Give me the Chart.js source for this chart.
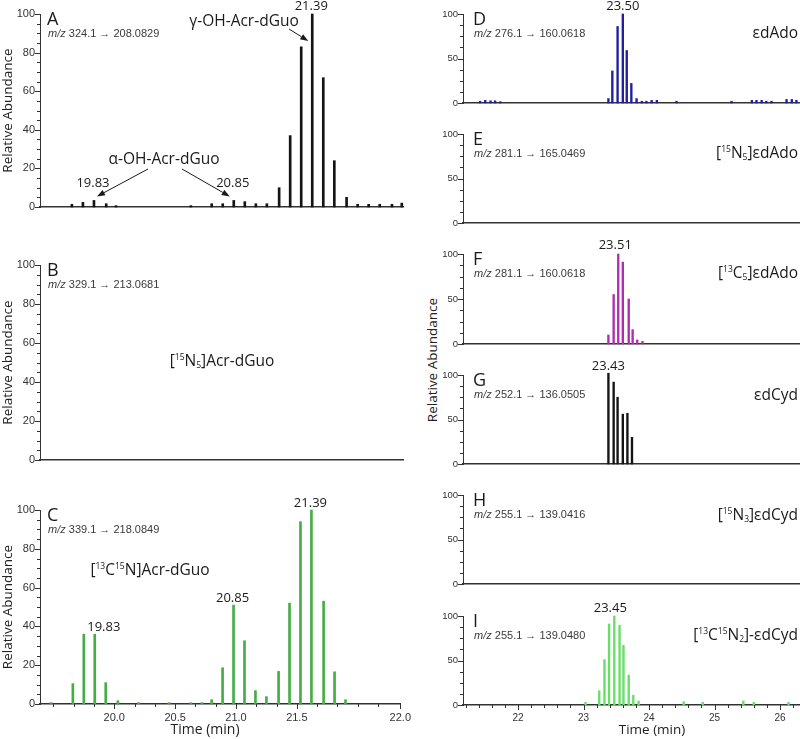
<!DOCTYPE html>
<html>
<head>
<meta charset="utf-8">
<title>Acr-dGuo and etheno adduct chromatograms</title>
<script src="https://cdn.jsdelivr.net/npm/chart.js@4.4.1/dist/chart.umd.min.js"></script>
<style>
  body { margin: 0; background: #fff; }
  #page { position: relative; width: 800px; height: 739px; overflow: hidden; font-family: "Open Sans", sans-serif; }
  #page canvas { position: absolute; }
  #rightTitle { position: absolute; left: 432px; top: 360px; transform: translate(-50%, -50%) rotate(-90deg);
                white-space: nowrap; font-size: 13.5px; color: #222; }
</style>
</head>
<body>
<div id="page"><div id="rightTitle">Relative Abundance</div></div>
<script>
// DATA (time in min, abundance in %)
// A - m/z 324.1 -> 208.0829
const timeA = [19.65, 19.74, 19.83, 19.93, 20.01, 20.62, 20.79, 20.88, 20.97, 21.06, 21.15, 21.24,
               21.34, 21.43, 21.52, 21.61, 21.70, 21.79, 21.89, 21.98, 22.07, 22.16, 22.26, 22.34];
const abundA = [1.4, 2.4, 3.4, 1.7, 0.7, 0.7, 1.7, 1.7, 3.4, 2.8, 1.7, 1.7,
                10, 37, 83, 100, 67, 24, 5, 1.4, 1.4, 1.4, 1.4, 2];
// B - m/z 329.1 -> 213.0681 (nothing detected)
const timeB = [];
const abundB = [];
// C - m/z 339.1 -> 218.0849
const timeC = [19.48, 19.66, 19.75, 19.84, 19.93, 20.03, 20.20, 20.45, 20.63, 20.72, 20.80, 20.89,
               20.98, 21.07, 21.16, 21.25, 21.35, 21.44, 21.53, 21.62, 21.72, 21.81, 21.90];
const abundC = [0.7, 10.5, 36, 36, 11, 1.7, 0.7, 0.7, 0.7, 0.7, 2.2, 18.7,
                51, 32.6, 6.9, 3.8, 16.8, 52, 94, 100, 53, 16.6, 2.2];
// D - m/z 276.1 -> 160.0618
const timeD = [21.42, 21.50, 21.58, 21.65, 21.73, 23.38, 23.44, 23.52, 23.60, 23.66, 23.73, 23.81, 23.89,
               23.96, 24.04, 24.12, 24.42, 25.26, 25.57, 25.64, 25.72, 25.79, 25.87, 26.10, 26.18, 26.25];
const abundD = [2, 3, 2.5, 2.5, 1.5, 5, 36, 86, 100, 59, 22, 5, 2,
                2, 3, 3, 2, 2, 3, 3, 3, 2, 2, 4, 4, 3];
// E - m/z 281.1 -> 165.0469 (nothing detected)
const timeE = [];
const abundE = [];
// F - m/z 281.1 -> 160.0618
const timeF = [23.38, 23.46, 23.53, 23.60, 23.69, 23.75, 23.82, 23.90];
const abundF = [10, 55, 100, 91, 50, 16, 4.5, 3];
// G - m/z 252.1 -> 136.0505
const timeG = [23.38, 23.46, 23.52, 23.60, 23.67, 23.74];
const abundG = [102, 92, 75, 56, 57, 30];
// H - m/z 255.1 -> 139.0416 (nothing detected)
const timeH = [];
const abundH = [];
// I - m/z 255.1 -> 139.0480
const timeI = [23.03, 23.24, 23.32, 23.39, 23.47, 23.55, 23.61, 23.69, 23.76, 23.84, 24.53, 24.82, 25.44, 25.60, 26.13];
const abundI = [3, 16, 51, 91, 100, 89.5, 67, 33.6, 11, 4.5, 3.7, 3, 4.5, 3, 3];

// tick labels
const tickValuesLeft = [20, 20.5, 21, 21.5, 22.35];
const tickLabelsLeft = ["20.0", "20.5", "21.0", "21.5", "22.0"];
const tickValuesRight = [22, 23, 24, 25, 26];
const tickLabelsRight = ["22", "23", "24", "25", "26"];

// COLUMN LAYOUT
const LEFT = { name: "left", left: 0, width: 418, axisW: 40, padRight: 15, xMin: 19.39, xMax: 22.35, yStep: 20, yMinor: 5,
               xMinorStart: 19.5, xMinor: 0.5 / 3, yFont: 11, xFont: 11, titleFont: 14, barW: 2,
               letterX: 47, titleX: 205, tickValues: tickValuesLeft, tickLabels: tickLabelsLeft, yTitle: true };
const RIGHT = { name: "right", left: 420, width: 380, axisW: 43, padRight: 0, xMin: 21.16, xMax: 26.305, yStep: 50, yMinor: 12.5,
                xMinorStart: 21.2, xMinor: 0.2, yFont: 9.5, xFont: 10, titleFont: 13.5, barW: 1.7,
                letterX: 473, titleX: 652, tickValues: tickValuesRight, tickLabels: tickLabelsRight, yTitle: false };

const panels = [
  { col: LEFT, top: 14, bottom: 207, letter: "A", mz: "324.1 \u2192 208.0829", times: timeA, values: abundA, color: "#141414",
    names: [{ text: "\u03b3-OH-Acr-dGuo", x: 244, y: 22, align: "center" },
            { text: "\u03b1-OH-Acr-dGuo", x: 164, y: 160, align: "center" }],
    peaks: [{ i: 15, text: "21.39", dx: -1, dy: -8 }, { i: 2, text: "19.83", dx: -1, dy: -17 }, { i: 8, text: "20.85", dx: -1, dy: -17 }],
    arrows: [{ from: [289, 29], i: 15, dx: -4, dy: 27 }, { from: [148, 169], i: 2, dx: 3, dy: -4 }, { from: [182, 169], i: 8, dx: -4, dy: -4 }] },
  { col: LEFT, top: 265, bottom: 460, letter: "B", mz: "329.1 \u2192 213.0681", times: timeB, values: abundB, color: "#141414",
    names: [{ text: "[^15N_5]Acr-dGuo", x: 222, y: 362, align: "center" }] },
  { col: LEFT, top: 510, bottom: 704, letter: "C", mz: "339.1 \u2192 218.0849", times: timeC, values: abundC, color: "#45ad45",
    names: [{ text: "[^13C^15N]Acr-dGuo", x: 150, y: 571, align: "center" }],
    peaks: [{ i: 3, text: "19.83", dx: 9, dy: -7 }, { i: 12, text: "20.85", dx: -1, dy: -7 }, { i: 19, text: "21.39", dx: -1, dy: -7 }],
    axisTitle: true },
  { col: RIGHT, top: 14, bottom: 103, letter: "D", mz: "276.1 \u2192 160.0618", times: timeD, values: abundD, color: "#1f1fa0",
    names: [{ text: "\u03b5dAdo", x: 798, y: 34, align: "right" }],
    peaks: [{ i: 8, text: "23.50", dx: 0, dy: -8 }] },
  { col: RIGHT, top: 134, bottom: 223, letter: "E", mz: "281.1 \u2192 165.0469", times: timeE, values: abundE, color: "#1f1fa0",
    names: [{ text: "[^15N_5]\u03b5dAdo", x: 798, y: 154, align: "right" }] },
  { col: RIGHT, top: 254, bottom: 344, letter: "F", mz: "281.1 \u2192 160.0618", times: timeF, values: abundF, color: "#b02db0",
    names: [{ text: "[^13C_5]\u03b5dAdo", x: 798, y: 274, align: "right" }],
    peaks: [{ i: 2, text: "23.51", dx: -3, dy: -9 }] },
  { col: RIGHT, top: 375, bottom: 464, letter: "G", mz: "252.1 \u2192 136.0505", times: timeG, values: abundG, color: "#141414",
    names: [{ text: "\u03b5dCyd", x: 798, y: 396, align: "right" }],
    peaks: [{ i: 0, text: "23.43", dx: 0, dy: -7 }] },
  { col: RIGHT, top: 495, bottom: 584, letter: "H", mz: "255.1 \u2192 139.0416", times: timeH, values: abundH, color: "#141414",
    names: [{ text: "[^15N_3]\u03b5dCyd", x: 798, y: 516, align: "right" }] },
  { col: RIGHT, top: 616, bottom: 705, letter: "I", mz: "255.1 \u2192 139.0480", times: timeI, values: abundI, color: "#66df66",
    names: [{ text: "[^13C^15N_2]-\u03b5dCyd", x: 798, y: 636, align: "right" }],
    peaks: [{ i: 4, text: "23.45", dx: -4, dy: -8 }],
    axisTitle: true }
];

// text with ^sup and _sub digits
function drawRich(ctx, str, x, y, size, align) {
  const parts = [];
  const re = /([\^_])(\d+)|([^\^_]+)/g;
  let m;
  while ((m = re.exec(str))) {
    if (m[3]) parts.push({ t: m[3], k: "" });
    else parts.push({ t: m[2], k: m[1] });
  }
  const small = size * 0.55;
  let w = 0;
  parts.forEach(q => {
    ctx.font = (q.k ? small : size) + 'px "Open Sans"';
    q.w = ctx.measureText(q.t).width;
    w += q.w;
  });
  let cx = align === "right" ? x - w : align === "center" ? x - w / 2 : x;
  ctx.textAlign = "left";
  parts.forEach(q => {
    ctx.font = (q.k ? small : size) + 'px "Open Sans"';
    const dy = q.k === "^" ? -size * 0.3 : q.k === "_" ? size * 0.25 : 0;
    ctx.fillText(q.t, cx, y + dy);
    cx += q.w;
  });
}

// small outside tick marks, major and minor
function tickMarksFor(p) {
  const col = p.col;
  return {
    id: "tickMarks",
    afterDraw(chart) {
      const ctx = chart.ctx;
      const ys = chart.scales.y, xs = chart.scales.x;
      const area = chart.chartArea;
      ctx.save();
      ctx.strokeStyle = "#333";
      ctx.lineWidth = 1;
      for (let v = 0; v <= 100.001; v += col.yMinor) {
        const major = Math.abs(v / col.yStep - Math.round(v / col.yStep)) < 1e-6;
        const py = Math.round(ys.getPixelForValue(v)) + 0.5;
        ctx.beginPath();
        ctx.moveTo(area.left - (major ? 5 : 3), py);
        ctx.lineTo(area.left, py);
        ctx.stroke();
      }
      if (p.axisTitle) {
        const majors = col.tickValues;
        majors.forEach(v => {
          const px = Math.round(xs.getPixelForValue(v)) + 0.5;
          ctx.beginPath(); ctx.moveTo(px, area.bottom); ctx.lineTo(px, area.bottom + 5); ctx.stroke();
        });
        for (let v = col.xMinorStart; v <= col.xMax; v += col.xMinor) {
          if (majors.some(mv => Math.abs(mv - v) < 0.04)) continue;
          const px = Math.round(xs.getPixelForValue(v)) + 0.5;
          ctx.beginPath(); ctx.moveTo(px, area.bottom); ctx.lineTo(px, area.bottom + 3); ctx.stroke();
        }
      }
      ctx.restore();
    }
  };
}

// panel letter, transition, compound names, peak labels, arrows, time title
function panelTextFor(p) {
  const col = p.col;
  return {
    id: "panelText",
    afterDatasetsDraw(chart) {
      const ctx = chart.ctx;
      const xs = chart.scales.x, ys = chart.scales.y;
      const offX = col.left, offY = p.top - 14;
      ctx.save();
      ctx.translate(-offX, -offY);
      ctx.fillStyle = "#1a1a1a";
      ctx.textBaseline = "middle";
      ctx.textAlign = "left";
      ctx.font = '18px "Open Sans"';
      ctx.fillText(p.letter, col.letterX, p.top + 5.5);
      ctx.fillStyle = "#3a3a3a";
      ctx.font = 'italic 11px "Liberation Sans", Arial';
      ctx.fillText("m/z", col.letterX + 1, p.top + 20);
      const mw = ctx.measureText("m/z ").width;
      ctx.font = '11px "Liberation Sans", Arial';
      ctx.fillText(p.mz, col.letterX + 1 + mw, p.top + 20);
      ctx.fillStyle = "#1a1a1a";
      (p.names || []).forEach(n => drawRich(ctx, n.text, n.x, n.y, 15.5, n.align));
      ctx.font = '13px "Open Sans"';
      ctx.textAlign = "center";
      (p.peaks || []).forEach(pk => {
        const bx = xs.getPixelForValue(p.times[pk.i]) + offX;
        const by = ys.getPixelForValue(p.values[pk.i]) + offY;
        ctx.fillText(pk.text, bx + pk.dx, by + pk.dy);
      });
      ctx.strokeStyle = "#1a1a1a";
      ctx.lineWidth = 1;
      (p.arrows || []).forEach(a => {
        const tx = xs.getPixelForValue(p.times[a.i]) + offX + a.dx;
        const ty = ys.getPixelForValue(p.values[a.i]) + offY + a.dy;
        const ang = Math.atan2(ty - a.from[1], tx - a.from[0]);
        const hl = 8, hw = 3;
        const bx = tx - hl * Math.cos(ang), by = ty - hl * Math.sin(ang);
        ctx.beginPath(); ctx.moveTo(a.from[0], a.from[1]); ctx.lineTo(bx, by); ctx.stroke();
        ctx.beginPath();
        ctx.moveTo(tx, ty);
        ctx.lineTo(bx + hw * Math.sin(ang), by - hw * Math.cos(ang));
        ctx.lineTo(bx - hw * Math.sin(ang), by + hw * Math.cos(ang));
        ctx.closePath();
        ctx.fill();
      });
      if (p.axisTitle) {
        ctx.fillStyle = "#222";
        ctx.font = col.titleFont + 'px "Open Sans"';
        ctx.textAlign = "center";
        ctx.fillText("Time (min)", col.titleX, 730);
      }
      ctx.restore();
    }
  };
}

const page = document.getElementById("page");

function makeChart(p) {
  const col = p.col;
  const cTop = p.top - 14;
  const xH = p.axisTitle ? 739 - p.bottom : 14;
  const canvas = document.createElement("canvas");
  canvas.width = col.width;
  canvas.height = p.bottom - cTop + xH;
  canvas.style.left = col.left + "px";
  canvas.style.top = cTop + "px";
  page.appendChild(canvas);

  new Chart(canvas, {
    type: "bar",
    data: {
      datasets: [{
        data: p.times.map((t, i) => ({ x: t, y: p.values[i] })),
        backgroundColor: p.color,
        barThickness: col.barW,
        clip: false
      }]
    },
    options: {
      responsive: false,
      animation: false,
      devicePixelRatio: 1,
      layout: { padding: { top: 14, right: col.padRight, left: 0, bottom: 0 } },
      plugins: { legend: { display: false }, tooltip: { enabled: false } },
      scales: {
        x: {
          type: "linear",
          min: col.xMin,
          max: col.xMax,
          offset: false,
          grid: { display: false, drawTicks: false },
          border: { display: true, color: "#333", width: 1.4 },
          afterBuildTicks: s => { s.ticks = col.tickValues.map(v => ({ value: v })); },
          afterFit: s => { s.height = xH; },
          ticks: {
            display: !!p.axisTitle,
            autoSkip: false,
            maxRotation: 0,
            padding: 7,
            color: "#333",
            font: { family: "Liberation Sans, Arial", size: col.xFont },
            callback: (v, i) => col.tickLabels[i]
          }
        },
        y: {
          min: 0,
          max: 100,
          grid: { display: false, drawTicks: false },
          border: { display: true, color: "#333", width: 1 },
          afterFit: s => { s.width = col.axisW; },
          ticks: {
            stepSize: col.yStep,
            padding: 5,
            color: "#333",
            font: { family: "Liberation Sans, Arial", size: col.yFont }
          },
          title: {
            display: col.yTitle,
            text: "Relative Abundance",
            color: "#222",
            padding: { top: 0, bottom: 0 },
            font: { family: "Open Sans", size: 13.5 }
          }
        }
      }
    },
    plugins: [tickMarksFor(p), panelTextFor(p)]
  });
}

panels.forEach(makeChart);
</script>
</body>
</html>
